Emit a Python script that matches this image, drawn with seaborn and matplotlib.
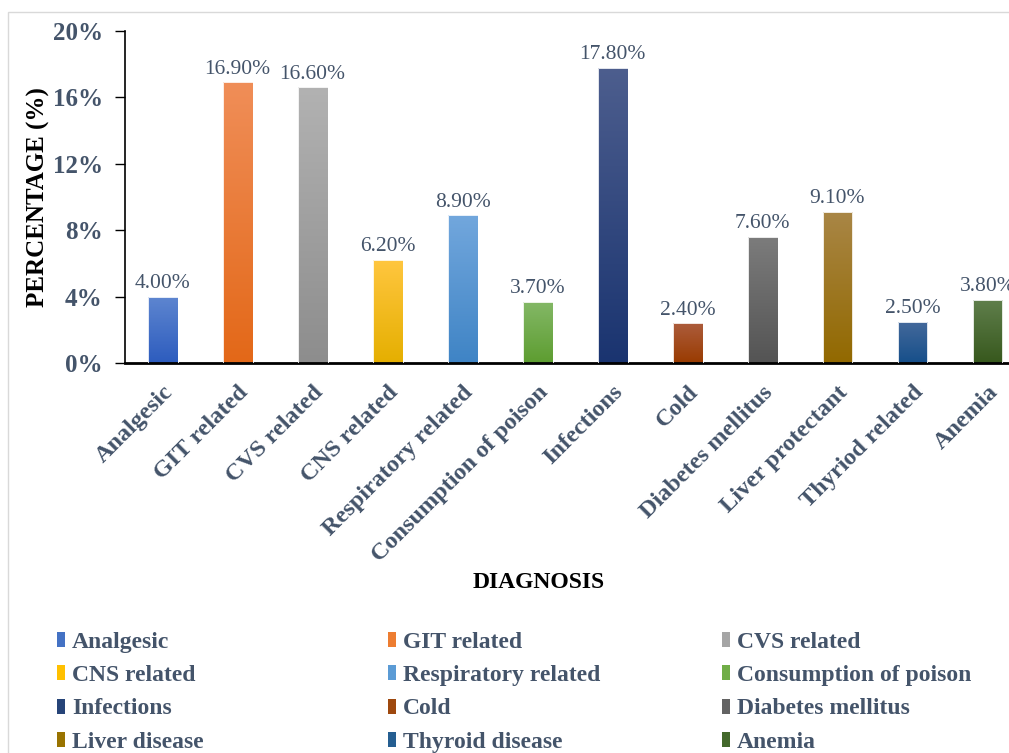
import numpy as np
import pandas as pd
import matplotlib
matplotlib.use("Agg")
import matplotlib.pyplot as plt
import seaborn as sns
from matplotlib.patches import Patch, Rectangle
from matplotlib.colors import LinearSegmentedColormap
from matplotlib.ticker import FuncFormatter

# data
diagnosis = ["Analgesic", "GIT related", "CVS related", "CNS related",
             "Respiratory related", "Consumption of poison", "Infections",
             "Cold", "Diabetes mellitus", "Liver protectant",
             "Thyriod related", "Anemia"]
percentage = [4.0, 16.9, 16.6, 6.2, 8.9, 3.7, 17.8, 2.4, 7.6, 9.1, 2.5, 3.8]
legend_labels = ["Analgesic", "GIT related", "CVS related", "CNS related",
                 "Respiratory related", "Consumption of poison", "Infections",
                 "Cold", "Diabetes mellitus", "Liver disease",
                 "Thyroid disease", "Anemia"]
y_ticks = [0, 4, 8, 12, 16, 20]

# Excel-like gradient colours (top, bottom) and flat colour for legend
top_colors = ["#5E86D0", "#F08E58", "#B2B2B2", "#FFC63F", "#72A7DD", "#84B867",
              "#4D5E8E", "#AC5C3C", "#7C7C7C", "#A98646", "#44699B", "#607F4C"]
bottom_colors = ["#2D5CBE", "#E36818", "#8D8D8D", "#E5AF00", "#3F84C5", "#5D9D30",
                 "#1A3470", "#993B00", "#545454", "#926900", "#164F8A", "#37581D"]
base_colors = ["#4472C4", "#ED7D31", "#A5A5A5", "#FFC000", "#5B9BD5", "#70AD47",
               "#264478", "#9E480E", "#636363", "#997300", "#255E91", "#43682B"]

text_col = "#44546A"

sns.set_style("white")
plt.rcParams["font.family"] = ["Liberation Serif", "DejaVu Serif"]

df = pd.DataFrame({"diagnosis": diagnosis, "pct": percentage})

fig = plt.figure(figsize=(10.09, 7.53), dpi=100)
ax = fig.add_axes([125 / 1009, 1 - 363 / 753, 900 / 1009, 332 / 753])

sns.barplot(data=df, x="diagnosis", y="pct", hue="diagnosis",
            palette=base_colors, width=0.4, legend=False, ax=ax,
            edgecolor="none", saturation=1)

# gradient fill on each bar
grad = np.linspace(0, 1, 256).reshape(-1, 1)
for patch, c_top, c_bot in zip(ax.patches, top_colors, bottom_colors):
    x0, y0 = patch.get_x(), patch.get_y()
    w, h = patch.get_width(), patch.get_height()
    cmap = LinearSegmentedColormap.from_list("g", [c_bot, c_top])
    im = ax.imshow(grad, cmap=cmap, aspect="auto", origin="lower",
                   extent=[x0, x0 + w, y0, y0 + h], zorder=2)
    im.set_clip_path(patch)
    patch.set_edgecolor("#FFFFFF")
    patch.set_linewidth(0.6)
    patch.set_zorder(3)
    patch.set_facecolor("none")
    ax.text(x0 + w / 2, y0 + h + 0.22, f"{h:.2f}%", ha="center", va="bottom",
            fontsize=15.5, color=text_col, zorder=4)

ax.set_xlim(-0.5, len(diagnosis) - 0.5)
ax.set_ylim(0, 20)
ax.set_yticks(y_ticks)
ax.yaxis.set_major_formatter(FuncFormatter(lambda v, p: f"{v:.0f}%"))
ax.tick_params(axis="y", left=True, length=7, width=1, color="black",
               labelsize=18, labelcolor=text_col, pad=9)
ax.tick_params(axis="x", bottom=False, labelsize=17.5, labelcolor=text_col, pad=10)
for lab in ax.get_yticklabels():
    lab.set_fontweight("bold")
ax.set_xticks(range(len(diagnosis)))
ax.set_xticklabels(diagnosis, rotation=45, ha="right", rotation_mode="anchor",
                   fontweight="bold")

sns.despine(ax=ax, top=True, right=True)
ax.spines["left"].set_color("black")
ax.spines["left"].set_linewidth(1.2)
ax.spines["bottom"].set_color("black")
ax.spines["bottom"].set_linewidth(2)

ax.set_ylabel("PERCENTAGE (%)", fontsize=18, fontweight="bold", color="black",
              labelpad=2)
ax.set_xlabel("")
fig.text(0.534, 1 - 583 / 753, "DIAGNOSIS", ha="center", va="center",
         fontsize=17, fontweight="bold", color="black")

# legend: three columns, filled row by row
handles = [Patch(facecolor=c, edgecolor="none") for c in base_colors]
col_x = [45 / 1009, 376 / 1009, 710 / 1009]
for j in range(3):
    idx = [i * 3 + j for i in range(4)]
    leg = fig.legend([handles[k] for k in idx], [legend_labels[k] for k in idx],
                     loc="upper left", bbox_to_anchor=(col_x[j], 1 - 620 / 753),
                     frameon=False, ncol=1, handlelength=0.35, handleheight=0.6,
                     handletextpad=0.3, labelspacing=0.52, borderpad=0,
                     prop={"family": ["Liberation Serif"], "weight": "bold",
                           "size": 17})
    for t in leg.get_texts():
        t.set_color(text_col)

# thin chart-area frame
fig.patches.append(Rectangle((8 / 1009, -0.01), 1.0, 1 - 12 / 753 + 0.01,
                             transform=fig.transFigure, fill=False,
                             edgecolor="#D9D9D9", linewidth=1))

fig.savefig("out.png", dpi=100)
